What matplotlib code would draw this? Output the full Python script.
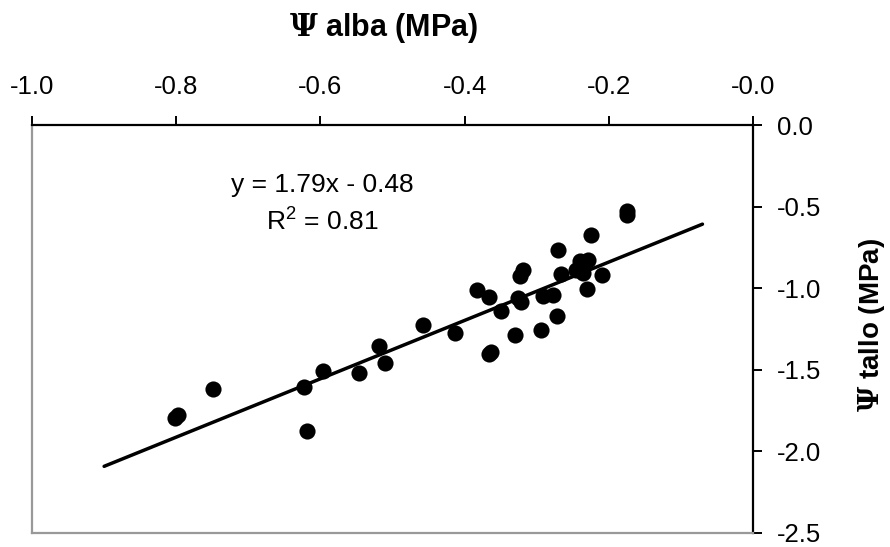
import numpy as np
import matplotlib
matplotlib.use("Agg")
import matplotlib.pyplot as plt

# datos
psi_alba = [-0.802, -0.797, -0.749, -0.623, -0.619, -0.596, -0.546, -0.519, -0.510,
            -0.458, -0.413, -0.383, -0.366, -0.366, -0.363, -0.350, -0.330, -0.326,
            -0.322, -0.323, -0.319, -0.294, -0.291, -0.277, -0.272, -0.270, -0.266,
            -0.245, -0.240, -0.229, -0.236, -0.230, -0.209, -0.225, -0.175, -0.175]
psi_tallo = [-1.794, -1.776, -1.617, -1.605, -1.874, -1.506, -1.518, -1.353, -1.457,
             -1.224, -1.273, -1.009, -1.052, -1.402, -1.392, -1.138, -1.285, -1.058,
             -1.083, -0.923, -0.887, -1.255, -1.046, -1.040, -1.169, -0.764, -0.911,
             -0.887, -0.831, -0.825, -0.905, -1.003, -0.917, -0.672, -0.525, -0.549]
pendiente = 1.79
intercepto = -0.48
rango_ajuste = [-0.90, -0.07]
ecuacion = "y = 1.79x - 0.48"
r2 = r"R$^{2}$ = 0.81"

plt.rcParams["font.family"] = ["Liberation Sans", "DejaVu Sans"]
plt.rcParams["axes.unicode_minus"] = False
plt.rcParams["mathtext.fontset"] = "custom"
plt.rcParams["mathtext.rm"] = "Liberation Sans"
plt.rcParams["mathtext.bf"] = "DejaVu Serif:bold"
fs_tick = 18.5
fs_txt = 19
fs_lab = 22

fig = plt.figure(figsize=(8.9, 5.47), dpi=100)
ax = fig.add_axes([0.036, 0.0256, 0.810, 0.745])

ax.scatter(psi_alba, psi_tallo, s=135, color="black", zorder=3, linewidths=0)
xr = np.array(rango_ajuste)
ax.plot(xr, pendiente * xr + intercepto, color="black", lw=2.5, solid_capstyle="round")

ax.text(-0.598, -0.408, ecuacion, ha="center", va="baseline", fontsize=fs_txt)
ax.text(-0.598, -0.641, r2, ha="center", va="baseline", fontsize=fs_txt)

ax.set_xlim(-1.0, 0.0)
ax.set_ylim(-2.5, 0.0)
ax.set_xticks(np.arange(-1.0, 0.01, 0.2))
ax.set_yticks(np.arange(-2.5, 0.01, 0.5))
ax.xaxis.set_major_formatter(matplotlib.ticker.FormatStrFormatter("%.1f"))
ax.yaxis.set_major_formatter(matplotlib.ticker.FormatStrFormatter("%.1f"))
ax.xaxis.tick_top()
ax.yaxis.tick_right()
ax.tick_params(axis="x", direction="out", length=6.5, width=1.4, pad=12.5, labelsize=fs_tick)
ax.tick_params(axis="y", direction="out", length=6.5, width=1.4, pad=10.5, labelsize=fs_tick)

for lado in ["top", "right"]:
    ax.spines[lado].set_color("black")
    ax.spines[lado].set_linewidth(1.6)
for lado in ["left", "bottom"]:
    ax.spines[lado].set_color("#999999")
    ax.spines[lado].set_linewidth(1.6)

fig.text(0.431, 0.934, r"$\mathbf{\Psi}$ alba (MPa)", ha="center", va="baseline",
         fontsize=fs_lab, fontweight="bold")
fig.text(0.979, 0.406, r"$\mathbf{\Psi}$ tallo (MPa)", ha="center", va="center",
         rotation=90, fontsize=20, fontweight="bold")

fig.savefig("out.png", dpi=100)
